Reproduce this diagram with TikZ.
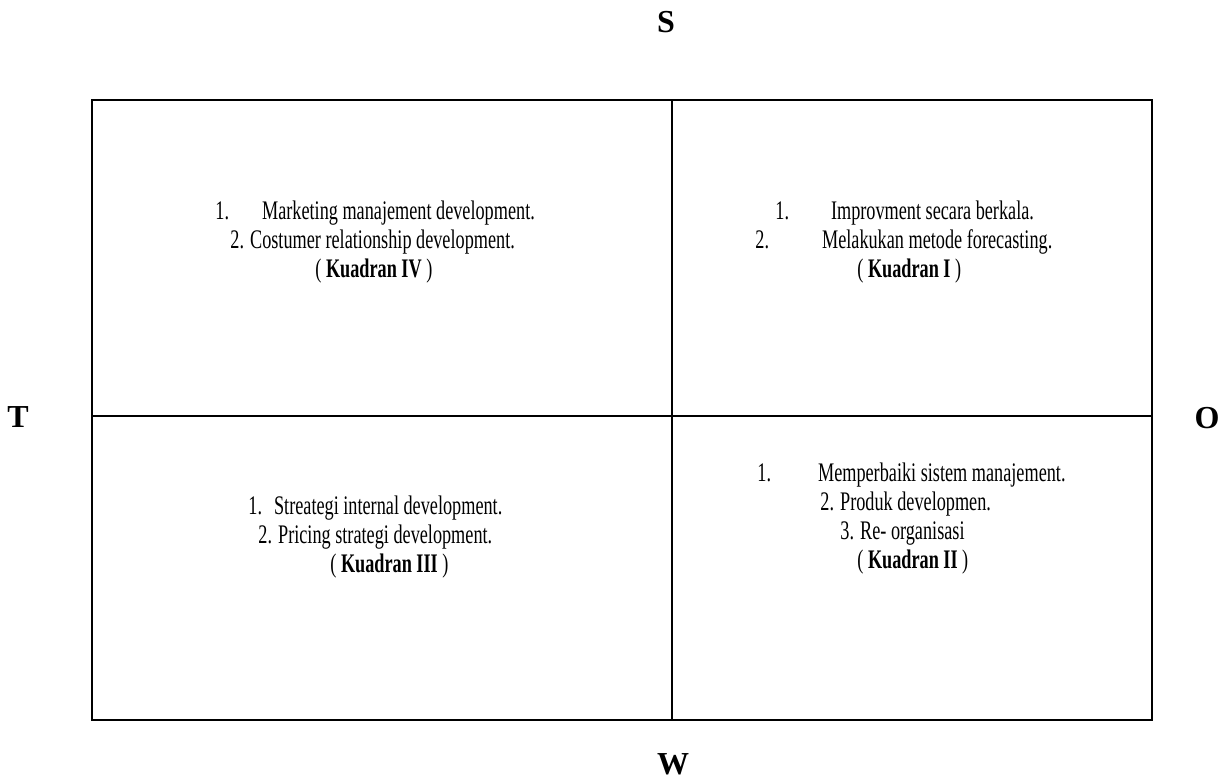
\documentclass[tikz,border=0pt]{standalone}
\usepackage{fontspec}
\setmainfont{Liberation Serif}
\newfontfamily\narrowfont[FakeStretch=0.68]{Liberation Serif}
\usetikzlibrary{positioning}

\tikzstyle{frame} = [line width=1.4pt]
\tikzstyle{divider} = [line width=0.8pt]
\tikzstyle{item} = [anchor=base west, inner sep=0pt,
   font=\narrowfont\fontsize{13.4pt}{15pt}\selectfont]
\tikzstyle{side} = [anchor=base, inner sep=0pt,
   font=\bfseries\fontsize{16pt}{18pt}\selectfont]

\begin{document}
\begin{tikzpicture}[x=0.5pt, y=-0.5pt]
  \useasboundingbox (0,0) rectangle (1227,779);

  % corners and mid points of the matrix
  \coordinate (nw) at (92,100);
  \coordinate (se) at (1152,720);
  \coordinate (top) at (672,100);
  \coordinate (bot) at (672,720);
  \coordinate (lft) at (92,416);
  \coordinate (rgt) at (1152,416);

  \draw[divider] (top) -- (bot);
  \draw[frame] (lft) -- (rgt);
  \draw[frame] (nw) rectangle (se);

  % axis letters
  \node[side] (s) at (666,33) {S};
  \node[side] (t) at (18,428) {T};
  \node[side] (o) at (1207,429) {O};
  \node[side] (w) at (673,775) {W};

  % Kuadran IV
  \node[item] (q4a) at (215,220) {1.\hspace{16.5pt}Marketing manajement development.};
  \node[item] (q4b) at (230,249) {2. Costumer relationship development.};
  \node[item] (q4c) at (315,278) {( \textbf{Kuadran IV} )};

  % Kuadran I
  \node[item] (q1a) at (775,220) {1.\hspace{21pt}Improvment secara berkala.};
  \node[item] (q1b) at (755,249) {2.\hspace{26.5pt}Melakukan metode forecasting.};
  \node[item] (q1c) at (857,278) {( \textbf{Kuadran I} )};

  % Kuadran III
  \node[item] (q3a) at (248,515) {1.\hspace{6pt}Streategi internal development.};
  \node[item] (q3b) at (258,544) {2. Pricing strategi development.};
  \node[item] (q3c) at (330,573) {( \textbf{Kuadran III} )};

  % Kuadran II
  \node[item] (q2a) at (757,482) {1.\hspace{23.5pt}Memperbaiki sistem manajement.};
  \node[item] (q2b) at (820,511) {2. Produk developmen.};
  \node[item] (q2c) at (840,540) {3. Re- organisasi};
  \node[item] (q2d) at (857,569) {( \textbf{Kuadran II} )};
\end{tikzpicture}
\end{document}
